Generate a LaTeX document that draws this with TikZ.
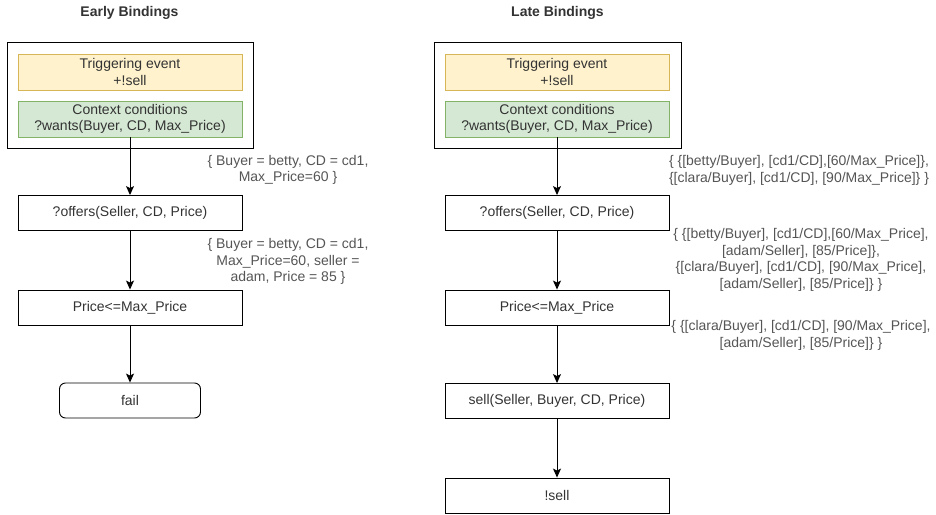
\documentclass[tikz,border=0pt]{standalone}
\usepackage{fontspec}
\setmainfont{Liberation Sans}
\usetikzlibrary{arrows.meta}
\definecolor{yfill}{HTML}{FFF2CC}
\definecolor{ydraw}{HTML}{D6B656}
\definecolor{gfill}{HTML}{D5E8D4}
\definecolor{gdraw}{HTML}{82B366}
\definecolor{txt}{HTML}{333333}
\definecolor{labtxt}{HTML}{555555}
\tikzset{
  boxstyle/.style={draw=black, line width=0.9pt, minimum width=224pt, minimum height=35pt,
    inner sep=0pt, align=center, text=txt, font=\fontsize{14}{16.5}\selectfont},
  outerbox/.style={draw=black, line width=1pt, minimum width=246pt, minimum height=106pt, inner sep=0pt},
  trigbox/.style={boxstyle, fill=yfill, draw=ydraw, minimum height=36pt},
  ctxbox/.style={boxstyle, fill=gfill, draw=gdraw, minimum height=36pt},
  failbox/.style={boxstyle, minimum width=141pt, rounded corners=6pt},
  labstyle/.style={align=center, text=labtxt, inner sep=0pt, font=\fontsize{14}{16.5}\selectfont},
  titlestyle/.style={text=txt, inner sep=0pt, font=\fontsize{14}{16}\selectfont\bfseries},
  arr/.style={draw=black, line width=1pt, -{Stealth[length=9pt,width=8pt,inset=2pt]}}
}
\begin{document}
\begin{tikzpicture}[x=1pt,y=-1pt]
\useasboundingbox (0,0) rectangle (936,514);
% Early bindings
\node[titlestyle] (titleL) at (129.5,13) {Early Bindings};
\node[outerbox] (outerL) at (130,95) {};
\node[trigbox] (trigL) at (130,72) {Triggering event\\+!sell};
\node[ctxbox] (ctxL) at (130,119) {Context conditions\\?wants(Buyer, CD, Max\_Price)};
\node[boxstyle] (offL) at (130,213) {?offers(Seller, CD, Price)};
\node[boxstyle] (priceL) at (130,307.5) {Price<=Max\_Price};
\node[failbox] (failL) at (130,400.5) {fail};
\node[labstyle] (lab1L) at (288,170) {\{ Buyer = betty, CD = cd1,\\Max\_Price=60 \}};
\node[labstyle] (lab2L) at (288,261.5) {\{ Buyer = betty, CD = cd1,\\Max\_Price=60, seller =\\adam, Price = 85 \}};
\draw[arr] (ctxL.south) -- (offL.north);
\draw[arr] (offL.south) -- (priceL.north);
\draw[arr] (priceL.south) -- (failL.north);
% Late bindings
\node[titlestyle] (titleR) at (557.5,13) {Late Bindings};
\node[outerbox, minimum width=247pt] (outerR) at (557.5,95) {};
\node[trigbox] (trigR) at (557,72) {Triggering event\\+!sell};
\node[ctxbox] (ctxR) at (557,119) {Context conditions\\?wants(Buyer, CD, Max\_Price)};
\node[boxstyle] (offR) at (557,213) {?offers(Seller, CD, Price)};
\node[boxstyle] (priceR) at (557,307.5) {Price<=Max\_Price};
\node[boxstyle] (sellR) at (557,401) {sell(Seller, Buyer, CD, Price)};
\node[boxstyle] (bangR) at (557,495.5) {!sell};
\node[labstyle] (lab1R) at (799,170.5) {\{ \{[betty/Buyer], [cd1/CD],[60/Max\_Price]\},\\\{[clara/Buyer], [cd1/CD], [90/Max\_Price]\} \}};
\node[labstyle] (lab2R) at (801,260) {\{ \{[betty/Buyer], [cd1/CD],[60/Max\_Price],\\{}[adam/Seller], [85/Price]\},\\\{[clara/Buyer], [cd1/CD], [90/Max\_Price],\\{}[adam/Seller], [85/Price]\} \}};
\node[labstyle] (lab3R) at (801,335.5) {\{ \{[clara/Buyer], [cd1/CD], [90/Max\_Price],\\{}[adam/Seller], [85/Price]\} \}};
\draw[arr] (ctxR.south) -- (offR.north);
\draw[arr] (offR.south) -- (priceR.north);
\draw[arr] (priceR.south) -- (sellR.north);
\draw[arr] (sellR.south) -- (bangR.north);
\end{tikzpicture}
\end{document}
